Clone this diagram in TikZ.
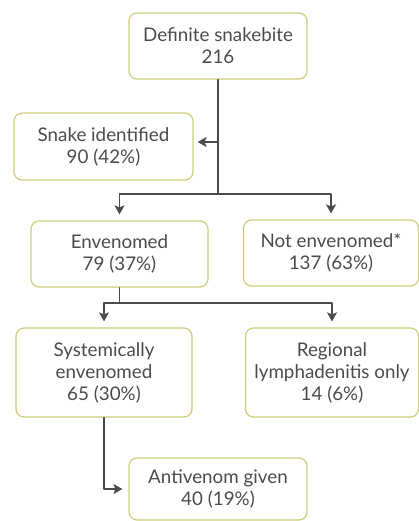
\documentclass[tikz,border=0pt]{standalone}
\usepackage{fontspec}
\setmainfont{Lato}
\usetikzlibrary{arrows.meta}
\definecolor{boxline}{RGB}{204,204,122}
\definecolor{txt}{RGB}{75,75,75}
\definecolor{conn}{RGB}{75,75,75}

\begin{document}
\begin{tikzpicture}[>=Stealth, line cap=round, line join=round, x=1pt, y=-1pt,
  box/.style={draw=boxline, line width=1.2pt, rounded corners=8pt, text=txt,
    align=center, inner sep=0pt, font=\fontsize{18.8}{22}\selectfont},
  link/.style={draw=conn, line width=1.3pt},
  tip/.style={link, -{Stealth[length=9pt,width=10pt,inset=2pt]}, shorten >=6pt}]

\useasboundingbox (0,0) rectangle (419,521);

% Caselle
\node[box, minimum width=178pt, minimum height=66pt] (bite) at (218,46) {Definite snakebite\\216};
\node[box, minimum width=179pt, minimum height=67pt] (ident) at (103.5,146.5) {Snake identified\\90 (42\%)};
\node[box, minimum width=177pt, minimum height=66pt] (env) at (119.5,254) {Envenomed\\79 (37\%)};
\node[box, minimum width=175pt, minimum height=66pt] (notenv) at (331,253) {Not envenomed*\\137 (63\%)};
\node[box, minimum width=176pt, minimum height=89pt] (syst) at (104,372.5) {Systemically\\envenomed\\65 (30\%)};
\node[box, minimum width=173pt, minimum height=89pt] (regional) at (332,372.5) {Regional\\lymphadenitis only\\14 (6\%)};
\node[box, minimum width=178pt, minimum height=62pt] (antiv) at (218,489) {Antivenom given\\40 (19\%)};

% Punti di diramazione
\coordinate (side) at (218,142);
\coordinate (split) at (218,194);
\coordinate (split2) at (119.5,303);

% Connettori
\draw[link] (bite) -- (split);
\draw[tip, shorten >=4pt] (side) -- (side -| ident.east);
\draw[tip] (split) -| (env.north);
\draw[tip] (split) -| (notenv.north);
\draw[link] (env) -- (split2);
\draw[tip] (split2) -| (syst.north);
\draw[tip] (split2) -| (regional.north);
\draw[tip] (syst) |- (antiv.west);

\end{tikzpicture}
\end{document}
